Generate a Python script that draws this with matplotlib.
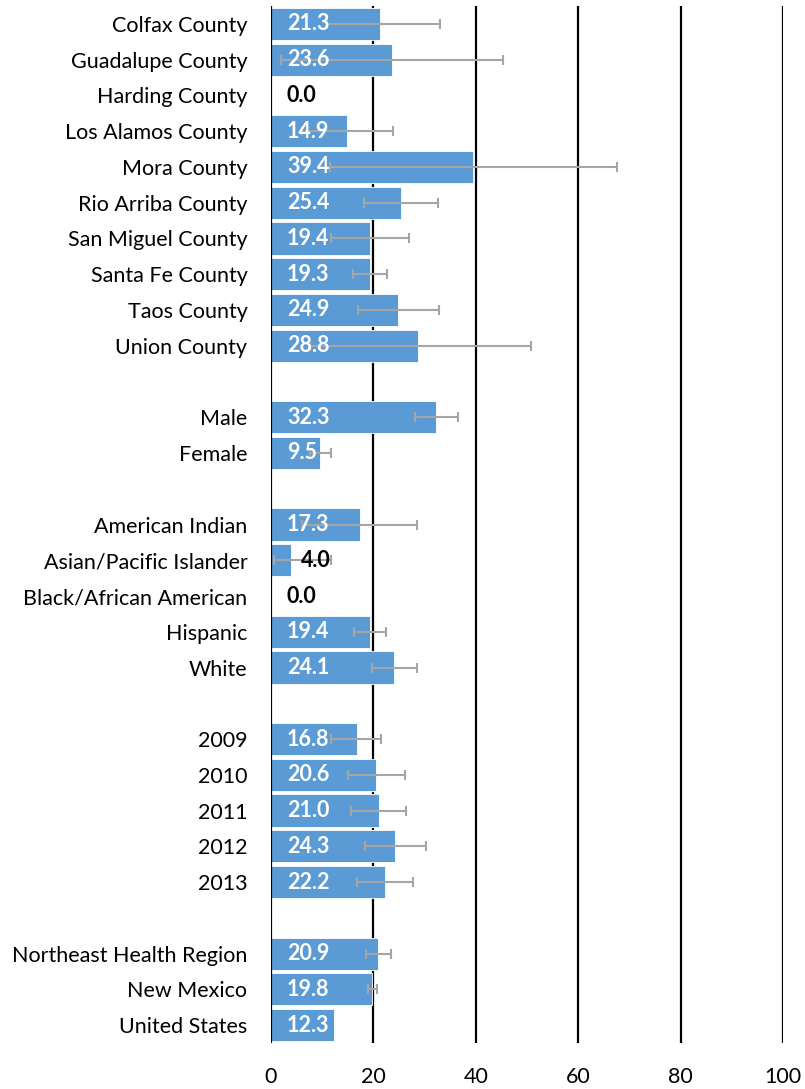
import matplotlib
matplotlib.use("Agg")
import matplotlib.pyplot as plt
import numpy as np

plt.rcParams['font.family'] = ['Lato', 'DejaVu Sans']

# Groups of categories (a blank row separates groups)
counties = ["Colfax County", "Guadalupe County", "Harding County", "Los Alamos County",
            "Mora County", "Rio Arriba County", "San Miguel County", "Santa Fe County",
            "Taos County", "Union County"]
county_vals = [21.3, 23.6, 0.0, 14.9, 39.4, 25.4, 19.4, 19.3, 24.9, 28.8]
county_lo = [11.0, 1.9, None, 6.0, 11.5, 18.2, 11.7, 16.0, 16.9, 7.6]
county_hi = [33.0, 45.3, None, 23.8, 67.6, 32.7, 27.0, 22.7, 32.9, 50.7]

sexes = ["Male", "Female"]
sex_vals = [32.3, 9.5]
sex_lo = [28.1, 7.6]
sex_hi = [36.6, 11.7]

races = ["American Indian", "Asian/Pacific Islander", "Black/African American",
         "Hispanic", "White"]
race_vals = [17.3, 4.0, 0.0, 19.4, 24.1]
race_lo = [6.0, 0.5, None, 16.2, 19.7]
race_hi = [28.5, 11.7, None, 22.5, 28.5]

years = ["2009", "2010", "2011", "2012", "2013"]
year_vals = [16.8, 20.6, 21.0, 24.3, 22.2]
year_lo = [11.8, 15.1, 15.6, 18.4, 16.7]
year_hi = [21.5, 26.2, 26.3, 30.3, 27.7]

regions = ["Northeast Health Region", "New Mexico", "United States"]
region_vals = [20.9, 19.8, 12.3]
region_lo = [18.5, 18.9, None]
region_hi = [23.4, 20.8, None]

groups = [
    (counties, county_vals, county_lo, county_hi),
    (sexes, sex_vals, sex_lo, sex_hi),
    (races, race_vals, race_lo, race_hi),
    (years, year_vals, year_lo, year_hi),
    (regions, region_vals, region_lo, region_hi),
]

x_ticks = [0, 20, 40, 60, 80, 100]

labels, vals, los, his, pos = [], [], [], [], []
p = 0
for gi, (cats, v, lo, hi) in enumerate(groups):
    if gi > 0:
        p += 1  # blank separator row
    for c, vv, l, h in zip(cats, v, lo, hi):
        labels.append(c); vals.append(vv); los.append(l); his.append(h); pos.append(p)
        p += 1
n_slots = p

fig = plt.figure(figsize=(8.05, 10.89), dpi=100)
ax = fig.add_axes([271/805, 1 - 1043/1089, (783-271)/805, (1043-6)/1089])

bar_color = "#5B9BD5"
ax.barh(pos, vals, height=0.9, color=bar_color, edgecolor="white", linewidth=0.6, zorder=2)

# error bars
for y, v, l, h in zip(pos, vals, los, his):
    if l is None or h is None:
        continue
    ax.errorbar([v], [y], xerr=[[v - l], [h - v]], fmt="none", ecolor="#A5A5A5",
                elinewidth=1.5, capsize=3.6, capthick=1.5, zorder=3)

# data labels
fs = 15.5
for y, v in zip(pos, vals):
    txt = f"{v:.1f}"
    if v == 0:
        ax.text(3.1, y, txt, ha="left", va="center", color="black", fontsize=fs,
                fontweight="bold", zorder=4)
    elif v < 8:
        ax.text(v + 1.8, y, txt, ha="left", va="center", color="black", fontsize=fs,
                fontweight="bold", zorder=4)
    else:
        ax.text(3.1, y, txt, ha="left", va="center", color="white", fontsize=fs,
                fontweight="bold", zorder=4)

ax.set_xlim(0, 100)
ax.set_ylim(n_slots - 0.5, -0.5)
ax.set_yticks(pos)
ax.set_yticklabels(labels, fontsize=fs)
ax.set_xticks(x_ticks)
ax.set_xticklabels([str(t) for t in x_ticks], fontsize=fs)
ax.tick_params(axis="y", length=0, pad=17)
ax.tick_params(axis="x", length=0, pad=17)

for t in x_ticks:
    ax.axvline(t, color="black", linewidth=1.6, zorder=1 if t else 5)

for s in ax.spines.values():
    s.set_visible(False)

fig.savefig("out.png", dpi=100)
